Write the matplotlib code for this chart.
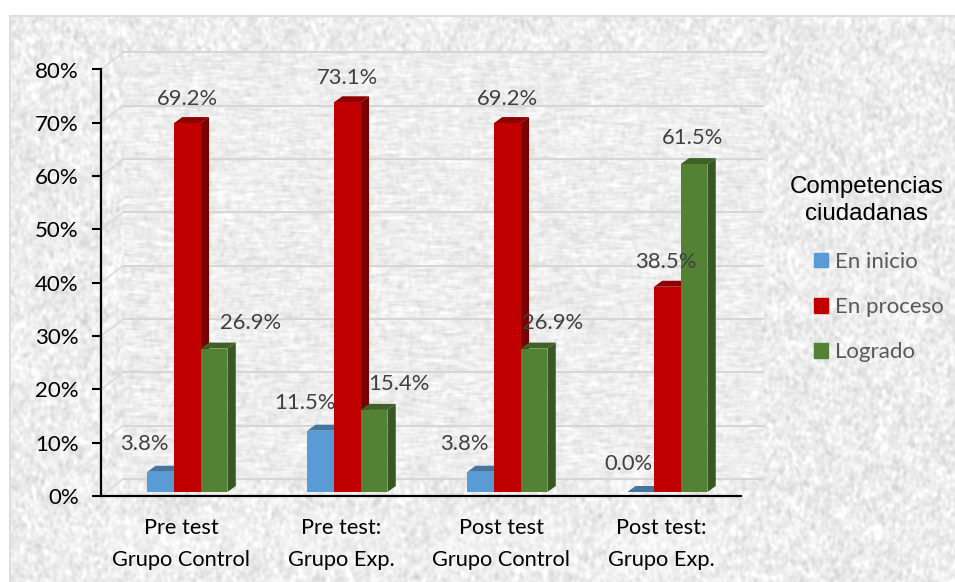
import numpy as np
import matplotlib
matplotlib.use('Agg')
import matplotlib.pyplot as plt
from matplotlib.patches import Polygon, Patch

categories = ['Pre test\nGrupo Control', 'Pre test:\nGrupo Exp.', 'Post test\nGrupo Control', 'Post test:\nGrupo Exp.']
en_inicio = [3.8, 11.5, 3.8, 0.0]
en_proceso = [69.2, 73.1, 69.2, 38.5]
logrado = [26.9, 15.4, 26.9, 61.5]
series_names = ['En inicio', 'En proceso', 'Logrado']
yticks = [0, 10, 20, 30, 40, 50, 60, 70, 80]

front = ['#5B9BD5', '#C00000', '#548235']
top = ['#44779F', '#8F0000', '#3F6128']
side = ['#3E6E9A', '#7A0000', '#385723']

# label offsets from the top centre of each bar, pixels
lab_dx = [[-16, -16, -16, -12], [0, 0, 0, -2], [36, 25, 18, -2]]
lab_dy = [28, 24.5, 26]

W, H = 955, 582
fig = plt.figure(figsize=(9.55, 5.82), dpi=100)
plt.rcParams['font.family'] = ['Lato', 'DejaVu Sans']


def blur(a, sx, sy):
    fy = np.fft.fftfreq(a.shape[0])[:, None]
    fx = np.fft.rfftfreq(a.shape[1])[None, :]
    g = np.exp(-2 * np.pi**2 * ((fx * sx)**2 + (fy * sy)**2))
    b = np.fft.irfft2(np.fft.rfft2(a) * g, s=a.shape)
    return b / b.std()


# paper texture behind the chart
rng = np.random.default_rng(3)
n = rng.normal(size=(H, W))
tex = 237 + 7.5 * blur(n, 1.3, 1.7) + 1.5 * blur(rng.normal(size=(H, W)), 7, 7)
wall = 238 + 4.5 * blur(rng.normal(size=(H, W)), 4, 0.8) + 4 * blur(n, 1.3, 1.7)
tex[52:480, 123:763] = wall[52:480, 123:763]
tex = np.clip(tex, 200, 255)
tex[:15, :] = 255
tex[:, :9] = 255
tex[15:17, 9:] = 222
tex[15:, 9:11] = 222

bg = fig.add_axes([0, 0, 1, 1])
bg.imshow(tex, cmap='gray', vmin=0, vmax=255, extent=(0, W, H, 0), aspect='auto', interpolation='bilinear')
bg.axis('off')

ax = fig.add_axes([101 / W, (H - 496) / H, 640 / W, 426.5 / H])
ax.patch.set_alpha(0)
ax.set_xlim(-0.5, 3.5)
ax.set_ylim(0, 80)

# 3d look: sizes of the depth offsets in data units
wall_dx, wall_dy = 22 / 160, 17 / 5.33
bar_dx, bar_dy = 8.3 / 160, 6 / 5.33
base = 4 / 5.33
w = 26.7 / 160
shift = 0.04

for t in yticks:
    ax.plot([wall_dx - 0.5, 3.5 + wall_dx], [t + wall_dy] * 2, color='#d6d6d6', lw=1.5, clip_on=False, zorder=1)
    ax.plot([-0.5, wall_dx - 0.5], [t, t + wall_dy], color='#dcdcdc', lw=1.2, clip_on=False, zorder=1)

x = np.arange(len(categories))
for s, vals in enumerate([en_inicio, en_proceso, logrado]):
    bars = ax.bar(x + shift + (s - 1) * w, vals, w, bottom=base, color=front[s], zorder=3 + s * 2, label=series_names[s])
    for i, r in enumerate(bars):
        x0, x1 = r.get_x(), r.get_x() + r.get_width()
        y0, y1 = r.get_y(), r.get_y() + r.get_height()
        ax.add_patch(Polygon([(x0, y1), (x1, y1), (x1 + bar_dx, y1 + bar_dy), (x0 + bar_dx, y1 + bar_dy)],
                             color=top[s], lw=0, zorder=2 + s * 2))
        ax.add_patch(Polygon([(x1, y0), (x1 + bar_dx, y0 + bar_dy), (x1 + bar_dx, y1 + bar_dy), (x1, y1)],
                             color=side[s], lw=0, zorder=2 + s * 2))
        ax.annotate('%.1f%%' % vals[i], ((x0 + x1) / 2, y1), xytext=(lab_dx[s][i] * 0.72, lab_dy[s] * 0.72),
                    textcoords='offset points', ha='center', va='center', fontsize=15.8, color='#404040', zorder=20)

for sp in ['top', 'right']:
    ax.spines[sp].set_visible(False)
for sp in ['left', 'bottom']:
    ax.spines[sp].set_linewidth(1.6)
    ax.spines[sp].set_zorder(10)

ax.set_yticks(yticks)
ax.set_yticklabels(['%d%%' % t for t in yticks], fontsize=16)
ax.tick_params(axis='y', length=6.5, width=1.5, pad=9.5)
ax.set_xticks(x)
ax.set_xticklabels(categories, fontsize=15.7, linespacing=1.75,
                   bbox=dict(facecolor='white', alpha=0.22, lw=0, pad=2))
ax.tick_params(axis='x', length=0, pad=15.5)

handles = [Patch(color=c, label=l) for c, l in zip(front, series_names)]
leg = fig.legend(handles=handles, title='Competencias\nciudadanas', frameon=False, loc='upper left',
                 bbox_to_anchor=(790 / W, 1 - 176 / H), fontsize=16, labelcolor='#595959',
                 handlelength=0.64, handleheight=0.64, handletextpad=0.3, labelspacing=1.14,
                 borderpad=0, borderaxespad=0, alignment='right')
leg.get_title().set_fontfamily(['Liberation Sans'])
leg.get_title().set_fontsize(17.4)
leg.get_title().set_multialignment('center')
leg.get_title().set_linespacing(1.32)
leg._legend_box.sep = 19

fig.savefig('out.png', dpi=100)
